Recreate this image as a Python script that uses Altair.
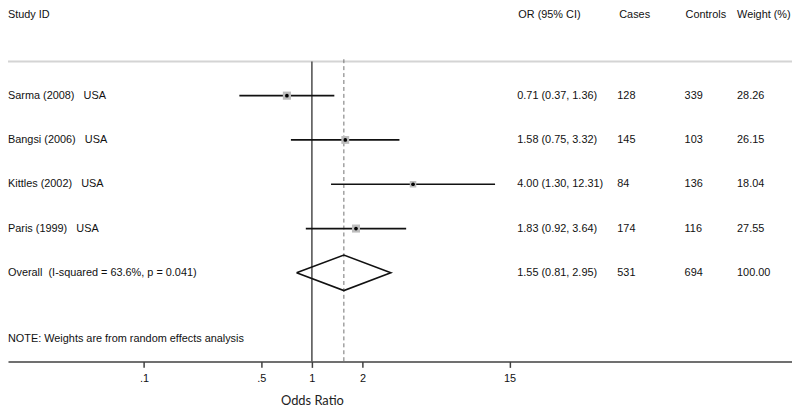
import altair as alt
import pandas as pd

# ---------------- data ----------------
studies = ["Sarma (2008)", "Bangsi (2006)", "Kittles (2002)", "Paris (1999)"]
countries = ["USA", "USA", "USA", "USA"]
or_vals = [0.71, 1.58, 4.00, 1.83]
ci_lo = [0.37, 0.75, 1.30, 0.92]
ci_hi = [1.36, 3.32, 12.31, 3.64]
cases = [128, 145, 84, 174]
controls = [339, 103, 136, 116]
weights = [28.26, 26.15, 18.04, 27.55]

overall_or = 1.55
overall_lo = 0.81
overall_hi = 2.95
overall_cases = 531
overall_controls = 694
overall_weight = 100.00
i_squared = 63.6
p_value = 0.041
null_value = 1.0

tick_values = [0.1, 0.5, 1, 2, 15]
tick_labels = [".1", ".5", "1", "2", "15"]

headers = ["Study ID", "OR (95% CI)", "Cases", "Controls", "Weight (%)"]
note = "NOTE: Weights are from random effects analysis"
x_title = "Odds Ratio"

# ---------------- layout ----------------
W, H = 792, 355
PX_PER_DECADE = 169.7
X_NULL_PX = 307.0
x_lo = 10 ** (-X_NULL_PX / PX_PER_DECADE)
x_hi = 10 ** ((W - X_NULL_PX) / PX_PER_DECADE)
ROW_PX = 44.8
row_top = (8 - 5) / ROW_PX
row_axis = 8.0
row_line = 1.228
study_rows = [2, 3, 4, 5]
overall_row = 6
note_row = 7.5
FONT = "Liberation Sans"

xs = alt.Scale(type="log", domain=[x_lo, x_hi], nice=False)
ys = alt.Scale(domain=[row_top, row_axis], reverse=True, nice=False, zero=False)

label_expr = " : ".join(
    f"abs(datum.value - {v}) < 1e-9 ? '{l}'" for v, l in zip(tick_values, tick_labels)
) + " : ''"

x_axis = alt.Axis(
    values=tick_values, labelExpr=label_expr, title=x_title,
    titleX=X_NULL_PX, titleY=33, titleBaseline="top", titleAlign="center",
    titleFont="Lato", titleFontSize=13, titleFontWeight="normal", titleColor="#222",
    labelFont=FONT, labelFontSize=11, labelColor="#111", labelPadding=5,
    domainColor="#404040", domainWidth=1.5, tickColor="#404040", tickWidth=1.5,
    tickSize=6, grid=False, labelFlush=False, labelOverlap=False,
)


def X(field):
    return alt.X(field, type="quantitative", scale=xs, axis=x_axis)


def Y(field):
    return alt.Y(field, type="quantitative", scale=ys, axis=None)


studies_df = pd.DataFrame({
    "row": study_rows,
    "label": [f"{s}\u00a0\u00a0\u00a0{c}" for s, c in zip(studies, countries)],
    "or": or_vals, "lo": ci_lo, "hi": ci_hi,
    "or_text": [f"{o:.2f} ({l:.2f}, {h:.2f})" for o, l, h in zip(or_vals, ci_lo, ci_hi)],
    "cases": [str(c) for c in cases],
    "controls": [str(c) for c in controls],
    "weight": weights,
    "weight_text": [f"{w:.2f}" for w in weights],
})

overall_df = pd.DataFrame({
    "row": [overall_row],
    "label": [f"Overall\u00a0\u00a0(I-squared = {i_squared:.1f}%, p = {p_value:.3f})"],
    "or_text": [f"{overall_or:.2f} ({overall_lo:.2f}, {overall_hi:.2f})"],
    "cases": [str(overall_cases)],
    "controls": [str(overall_controls)],
    "weight_text": [f"{overall_weight:.2f}"],
})

table_df = pd.concat([studies_df[["row", "label", "or_text", "cases", "controls", "weight_text"]],
                      overall_df], ignore_index=True)

diamond_df = pd.DataFrame({
    "x": [overall_lo, overall_or, overall_hi, overall_or, overall_lo],
    "y": [overall_row, overall_row - 0.4, overall_row, overall_row + 0.4, overall_row],
    "order": [0, 1, 2, 3, 4],
})

vlines_df = pd.DataFrame({"x": [null_value], "y1": [row_line], "y2": [row_axis]})
olines_df = pd.DataFrame({"x": [overall_or], "y1": [row_line - 0.05], "y2": [row_axis]})
top_line_df = pd.DataFrame({"y": [row_line]})
note_df = pd.DataFrame({"row": [note_row], "text": [note]})
header_df = pd.DataFrame({"h": headers})

# ---------------- layers ----------------
top_line = alt.Chart(top_line_df).mark_rule(color="#d4d4d4", strokeWidth=2).encode(
    y=Y("y"), x=alt.value(0), x2=alt.value(W))

null_line = alt.Chart(vlines_df).mark_rule(color="#4a4a4a", strokeWidth=1.5).encode(
    x=X("x"), y=Y("y1"), y2="y2")

overall_line = alt.Chart(olines_df).mark_rule(color="#707070", strokeWidth=1, strokeDash=[4, 3]).encode(
    x=X("x"), y=Y("y1"), y2="y2")

ci = alt.Chart(studies_df).mark_rule(color="#111", strokeWidth=1.7).encode(
    x=X("lo"), x2="hi", y=Y("row"))

boxes = alt.Chart(studies_df).mark_square(color="#bdbdbd", opacity=1).encode(
    x=X("or"), y=Y("row"),
    size=alt.Size("weight:Q", scale=alt.Scale(domain=[0, 30], range=[0, 72]), legend=None))

dots = alt.Chart(studies_df).mark_circle(color="#000", size=14, opacity=1).encode(
    x=X("or"), y=Y("row"))

diamond = alt.Chart(diamond_df).mark_line(color="#111", strokeWidth=1.6).encode(
    x=X("x"), y=Y("y"), order="order:Q")

txt = dict(align="left", baseline="middle", font=FONT, fontSize=11, color="#111")

col_label = alt.Chart(table_df).mark_text(**txt).encode(x=alt.value(0), y=Y("row"), text="label:N")
col_or = alt.Chart(table_df).mark_text(**txt).encode(x=alt.value(514.5), y=Y("row"), text="or_text:N")
col_cases = alt.Chart(table_df).mark_text(**txt).encode(x=alt.value(615.5), y=Y("row"), text="cases:N")
col_controls = alt.Chart(table_df).mark_text(**txt).encode(x=alt.value(683.5), y=Y("row"), text="controls:N")
col_weight = alt.Chart(table_df).mark_text(**txt).encode(x=alt.value(736.5), y=Y("row"), text="weight_text:N")

note_text = alt.Chart(note_df).mark_text(**txt).encode(x=alt.value(0), y=Y("row"), text="text:N")

header_x = [0, 515.5, 617.5, 684.5, 736.5]
header_layers = [
    alt.Chart(header_df.iloc[[i]]).mark_text(**txt).encode(
        x=alt.value(px), y=alt.value(5), text="h:N")
    for i, px in enumerate(header_x)
]

chart = alt.layer(
    top_line, null_line, overall_line, ci, boxes, dots, diamond,
    col_label, col_or, col_cases, col_controls, col_weight, note_text, *header_layers,
).properties(
    width=W, height=H, background="white",
    autosize=alt.AutoSizeParams(type="none"),
    padding={"left": 0, "top": 0, "right": 0, "bottom": 46},
).configure_view(stroke=None)

chart.save("out.html", embed_options={"renderer": "svg", "actions": False})
